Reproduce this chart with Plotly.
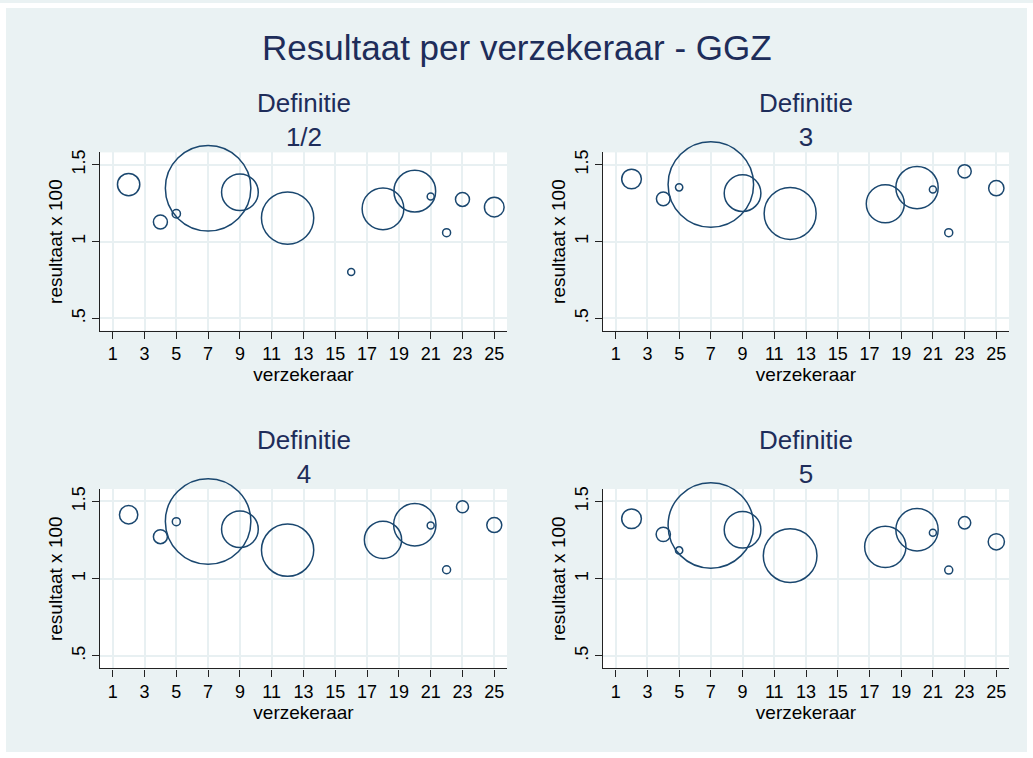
import plotly.graph_objects as go

# ---- data ----
titel = "Resultaat per verzekeraar - GGZ"
definities = ["1/2", "3", "4", "5"]

verz_def12 = [2, 4, 5, 7, 9, 12, 16, 18, 20, 21, 22, 23, 25]
res_def12 = [1.371, 1.127, 1.181, 1.347, 1.321, 1.153, 0.802, 1.213, 1.328, 1.293, 1.058, 1.274, 1.224]
gew_def12 = [6.8, 2.68, 0.94, 100, 18.4, 37.4, 0.67, 23.8, 23.8, 0.67, 0.88, 2.68, 5.3]

verz_def3 = [2, 4, 5, 7, 9, 12, 18, 20, 21, 22, 23, 25]
res_def3 = [1.407, 1.278, 1.353, 1.371, 1.315, 1.183, 1.246, 1.351, 1.338, 1.058, 1.457, 1.347]
gew_def3 = [5.3, 2.57, 0.73, 100, 18.4, 37.0, 19.8, 24.5, 0.67, 0.88, 2.42, 3.2]

verz_def4 = [2, 4, 5, 7, 9, 12, 18, 20, 21, 22, 23, 25]
res_def4 = [1.414, 1.272, 1.369, 1.370, 1.320, 1.185, 1.252, 1.349, 1.345, 1.058, 1.466, 1.347]
gew_def4 = [4.6, 2.68, 0.88, 100, 18.4, 37.4, 19.0, 24.5, 0.67, 0.88, 1.97, 3.08]

verz_def5 = [2, 4, 5, 7, 9, 12, 18, 20, 21, 22, 23, 25]
res_def5 = [1.388, 1.287, 1.183, 1.345, 1.317, 1.149, 1.206, 1.317, 1.297, 1.056, 1.362, 1.239]
gew_def5 = [5.3, 2.8, 0.73, 100, 18.4, 39.4, 23.3, 24.5, 0.67, 0.88, 2.07, 3.6]

x_ticks = [1, 3, 5, 7, 9, 11, 13, 15, 17, 19, 21, 23, 25]
y_ticks = [0.5, 1, 1.5]
y_ticktext = [".5", "1", "1.5"]

# ---- style ----
W, H = 1033, 758
FONT = "Arial, Liberation Sans, sans-serif"
NAVY = "#1a476f"
TITLE_COL = "#1e2d5a"
BG = "#eaf2f3"
GRID = "#e8f0f2"
AX = "#222222"
max_diam = 85.5
sizeref = 2 * 100 / max_diam ** 2

series = [
    (verz_def12, res_def12, gew_def12),
    (verz_def3, res_def3, gew_def3),
    (verz_def4, res_def4, gew_def4),
    (verz_def5, res_def5, gew_def5),
]

# panel pixel boxes: (left, right, top, bottom)
boxes = [(100, 507, 150, 329), (603, 1009, 150, 329),
         (100, 507, 488, 668), (603, 1009, 488, 668)]

fig = go.Figure()
annotations = []
for i, ((xs, ys, ws), (l, r, t, b), d) in enumerate(zip(series, boxes, definities)):
    n = "" if i == 0 else str(i + 1)
    fig.add_trace(go.Scatter(
        x=xs, y=ys, mode="markers", xaxis="x" + n, yaxis="y" + n,
        cliponaxis=False, showlegend=False, hoverinfo="x+y",
        marker=dict(size=ws, sizemode="area", sizeref=sizeref, opacity=1,
                    color="rgba(0,0,0,0)", line=dict(color=NAVY, width=1.5)),
    ))
    xd = [l / W, r / W]
    yd = [1 - b / H, 1 - t / H]
    common = dict(showline=True, linecolor=AX, linewidth=1.3, ticks="outside",
                  ticklen=7, tickwidth=1.3, tickcolor=AX, showgrid=True,
                  gridcolor=GRID, gridwidth=1.5, zeroline=False,
                  tickfont=dict(family=FONT, size=18, color="black"))
    fig.update_layout(**{
        "xaxis" + n: dict(domain=xd, range=[0.2, 25.8], tickvals=x_ticks,
                          anchor="y" + n,
                          title=dict(text="verzekeraar", standoff=0,
                                     font=dict(family=FONT, size=19, color="black")),
                          **common),
        "yaxis" + n: dict(domain=yd, range=[0.42, 1.58], tickvals=y_ticks,
                          ticktext=y_ticktext, tickangle=-90, anchor="x" + n,
                          title=dict(text="resultaat x 100", standoff=0,
                                     font=dict(family=FONT, size=19, color="black")),
                          **common),
    })
    cx = (l + r) / 2 / W
    annotations.append(dict(text="Definitie<br>" + d, x=cx, y=1 - (t - 32.5) / H,
                            xref="paper", yref="paper", showarrow=False,
                            xanchor="center", yanchor="middle", align="center",
                            font=dict(family=FONT, size=26, color=TITLE_COL)))

annotations.append(dict(text=titel, x=0.5, y=1 - 45 / H, xref="paper", yref="paper",
                        showarrow=False, xanchor="center", yanchor="middle",
                        font=dict(family=FONT, size=35, color=TITLE_COL)))

# thin white frame around the light-grey graph region
frame = [
    dict(x0=0, x1=6 / W, y0=0, y1=1),
    dict(x0=1027 / W, x1=1, y0=0, y1=1),
    dict(x0=0, x1=1, y0=1 - 5 / H, y1=1),
    dict(x0=0, x1=1, y0=0, y1=1 - 752 / H),
]
shapes = [dict(type="rect", xref="paper", yref="paper", fillcolor="white",
               line=dict(width=0), layer="below", **f) for f in frame]

fig.update_layout(
    width=W, height=H, margin=dict(l=0, r=0, t=0, b=0),
    paper_bgcolor=BG, plot_bgcolor="white",
    annotations=annotations, shapes=shapes,
)

fig.write_html("out.html", config={"displayModeBar": False},
               post_script="document.body.style.margin='0';")
